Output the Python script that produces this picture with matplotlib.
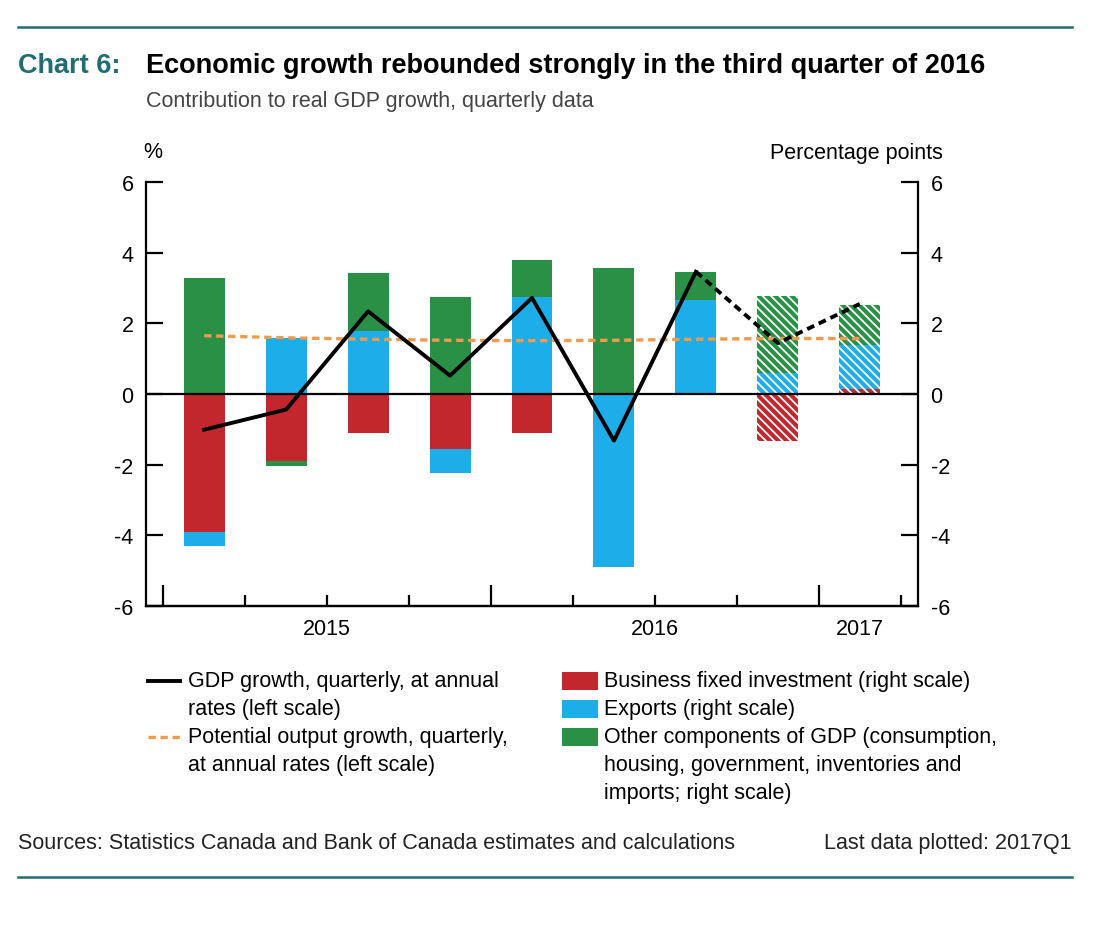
import matplotlib
matplotlib.use('Agg')
import matplotlib.pyplot as plt
import numpy as np
from matplotlib.lines import Line2D
from matplotlib.patches import Rectangle

plt.rcParams['font.family'] = ['Liberation Sans', 'DejaVu Sans']
plt.rcParams['hatch.linewidth'] = 1.3

# ── data ────────────────────────────────────────────────
quarters = ['2015Q1', '2015Q2', '2015Q3', '2015Q4', '2016Q1',
            '2016Q2', '2016Q3', '2016Q4', '2017Q1']
projected = [False, False, False, False, False, False, False, True, True]
business_inv = [-3.90, -1.91, -1.10, -1.56, -1.10, -0.04, -0.03, -1.32, 0.14]
exports      = [-0.39, 1.58, 1.79, -0.68, 2.74, -4.85, 2.67, 0.59, 1.25]
other        = [3.28, -0.14, 1.63, 2.74, 1.05, 3.57, 0.77, 2.17, 1.13]
gdp_growth   = [-1.01, -0.44, 2.34, 0.52, 2.72, -1.32, 3.46, 1.44, 2.55]
potential    = [1.65, 1.59, 1.55, 1.52, 1.51, 1.52, 1.55, 1.57, 1.57]
year_labels = ['2015', '2016', '2017']
year_pos    = [1.5, 5.5, 8.0]

RED, BLUE, GREEN = '#C1272D', '#1DADE9', '#2A9045'
ORANGE = '#EE9B4E'
TEAL = '#1F6E72'
FS = 15.5

W, H = 1120, 928
fig = plt.figure(figsize=(W / 100, H / 100), dpi=100)

def fx(px):
    return px / W

def fy(py):
    return 1 - py / H

ax = fig.add_axes([fx(146), fy(607), fx(918) - fx(146), fy(183) - fy(607)])
ax2 = ax.twinx()

# ── stacked bars (right scale) ──────────────────────────
x = np.arange(len(quarters))
pos_base = np.zeros(len(x))
neg_base = np.zeros(len(x))
for vals, col in [(business_inv, RED), (exports, BLUE), (other, GREEN)]:
    vals = np.array(vals)
    bottoms = np.where(vals >= 0, pos_base, neg_base)
    for i in range(len(x)):
        if projected[i]:
            ax2.bar(x[i], vals[i], bottom=bottoms[i], width=0.5, color=col,
                    hatch='\\\\\\\\', edgecolor='white', linewidth=0)
        else:
            ax2.bar(x[i], vals[i], bottom=bottoms[i], width=0.5, color=col,
                    linewidth=0)
    pos_base += np.where(vals >= 0, vals, 0)
    neg_base += np.where(vals < 0, vals, 0)

ax2.axhline(0, color='black', lw=1.6, zorder=5)

# ── lines (left scale) ──────────────────────────────────
ax.plot(x, potential, color=ORANGE, lw=2.4, ls=(0, (2.2, 1.4)), zorder=6)
n_act = projected.index(True)
ax.plot(x[:n_act], gdp_growth[:n_act], color='black', lw=2.8, zorder=7)
ax.plot(x[n_act - 1:], gdp_growth[n_act - 1:], color='black', lw=2.8,
        ls=(0, (2.0, 1.3)), zorder=7)

ax.set_zorder(ax2.get_zorder() + 1)
ax.patch.set_visible(False)

for a in (ax, ax2):
    a.set_xlim(-0.71, 8.71)
    a.set_ylim(-6, 6)
    a.set_yticks(range(-6, 7, 2))
    a.spines['top'].set_visible(False)
    a.spines['left'].set_linewidth(1.6)
    a.spines['right'].set_linewidth(1.6)
    a.spines['bottom'].set_linewidth(1.6)
ax.spines['right'].set_visible(False)
ax2.spines['left'].set_visible(False)

ax.tick_params(axis='y', direction='in', length=12, width=1.6, labelsize=FS, pad=9)
ax2.tick_params(axis='y', direction='in', length=12, width=1.6, labelsize=FS, pad=9)
ax.set_yticklabels([str(v) for v in range(-6, 7, 2)])
ax2.set_yticklabels([str(v) for v in range(-6, 7, 2)])

# quarter boundaries on the x axis, longer ticks at year starts
bounds = np.arange(len(x) + 1) - 0.5
ax.set_xticks([b for b in bounds if (b + 0.5) % 4 == 0])
ax.set_xticks([b for b in bounds if (b + 0.5) % 4 != 0], minor=True)
ax.tick_params(axis='x', which='major', direction='in', length=15, width=1.6,
               labelbottom=False)
ax.tick_params(axis='x', which='minor', direction='in', length=8, width=1.6)
ax2.tick_params(axis='x', which='both', bottom=False, labelbottom=False)
for lab, p in zip(year_labels, year_pos):
    ax.text(p, -0.054, lab, transform=ax.get_xaxis_transform(),
            ha='center', va='center', fontsize=FS)

fig.text(fx(153), fy(153), '%', ha='center', va='center', fontsize=FS)
fig.text(fx(943), fy(153), 'Percentage points', ha='right', va='center', fontsize=FS)

# ── titles and rules ────────────────────────────────────
fig.add_artist(Line2D([fx(18), fx(1072)], [fy(28), fy(28)], color=TEAL, lw=1.8))
fig.add_artist(Line2D([fx(18), fx(1072)], [fy(878), fy(878)], color=TEAL, lw=1.8))
fig.text(fx(18), fy(66), 'Chart 6:', color=TEAL, fontsize=19.5, fontweight='bold',
         va='center', ha='left')
fig.text(fx(146), fy(66), 'Economic growth rebounded strongly in the third quarter of 2016',
         fontsize=19.5, fontweight='bold', va='center', ha='left')
fig.text(fx(146), fy(101), 'Contribution to real GDP growth, quarterly data',
         fontsize=FS, color='#444444', va='center', ha='left')

# ── legend ──────────────────────────────────────────────
row = 28
fig.add_artist(Line2D([fx(148), fx(180)], [fy(682), fy(682)], color='black', lw=2.8))
fig.text(fx(188), fy(682), 'GDP growth, quarterly, at annual', fontsize=FS, va='center')
fig.text(fx(188), fy(682 + row), 'rates (left scale)', fontsize=FS, va='center')
fig.add_artist(Line2D([fx(148), fx(180)], [fy(738), fy(738)], color=ORANGE, lw=2.4,
                      ls=(0, (2.2, 1.4))))
fig.text(fx(188), fy(738), 'Potential output growth, quarterly,', fontsize=FS, va='center')
fig.text(fx(188), fy(738 + row), 'at annual rates (left scale)', fontsize=FS, va='center')

right_items = [(RED, ['Business fixed investment (right scale)']),
               (BLUE, ['Exports (right scale)']),
               (GREEN, ['Other components of GDP (consumption,',
                        'housing, government, inventories and',
                        'imports; right scale)'])]
for k, (col, lines) in enumerate(right_items):
    yy = 682 + k * row
    fig.add_artist(Rectangle((fx(562), fy(yy + 9)), fx(36), 18 / H, color=col, lw=0))
    for j, t in enumerate(lines):
        fig.text(fx(604), fy(yy + j * row), t, fontsize=FS, va='center')

fig.text(fx(18), fy(844), 'Sources: Statistics Canada and Bank of Canada estimates and calculations',
         fontsize=FS, va='center', color='#222222')
fig.text(fx(1072), fy(844), 'Last data plotted: 2017Q1', fontsize=FS, va='center',
         ha='right', color='#222222')

fig.savefig('out.png', dpi=100)
